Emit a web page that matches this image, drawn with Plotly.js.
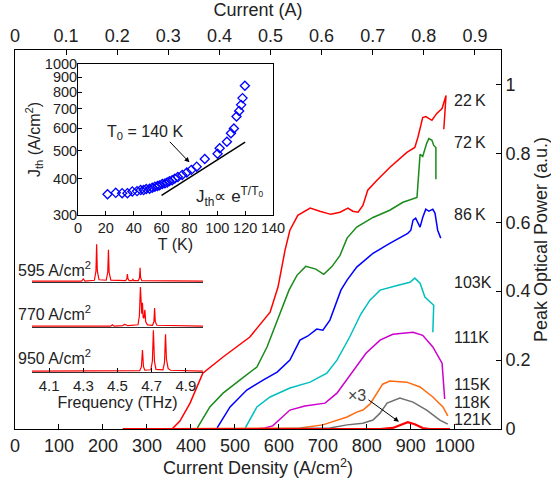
<!DOCTYPE html>
<html><head><meta charset="utf-8">
<script src="https://cdn.plot.ly/plotly-3.0.1.min.js"></script>
<style>html,body{margin:0;padding:0;background:#fff}#chart{width:551px;height:481px}</style>
</head><body><div id="chart"></div>
<script>
// ---- Main chart: peak optical power vs current density ----
const J22 = [357,375,398,427,473,534,580,598,614,625,643,671,693,718,739,757,768,780,791,802,823,852,891,909,916,927,934,948,959,971,980,975];
const P22 = [0,0.023,0.075,0.162,0.209,0.267,0.339,0.412,0.519,0.577,0.620,0.641,0.632,0.623,0.629,0.641,0.632,0.629,0.649,0.693,0.722,0.759,0.803,0.817,0.846,0.904,0.907,0.896,0.916,0.930,0.968,0.870];
const J72 = [414,416,443,473,511,550,573,596,623,641,661,684,702,721,739,755,777,814,852,882,914,921,927,936,941,948,952,957,957];
const P72 = [0,0.006,0.064,0.104,0.142,0.180,0.238,0.316,0.403,0.446,0.472,0.464,0.449,0.472,0.504,0.554,0.586,0.614,0.635,0.658,0.672,0.797,0.791,0.829,0.843,0.838,0.823,0.817,0.725];
const J86 = [459,461,489,527,564,596,625,648,666,686,700,716,741,755,777,814,852,893,900,905,911,921,927,934,941,950,955,961,968];
const P86 = [0,0.006,0.064,0.113,0.142,0.165,0.2,0.258,0.270,0.290,0.287,0.316,0.403,0.432,0.470,0.510,0.539,0.568,0.577,0.606,0.612,0.586,0.614,0.638,0.632,0.638,0.626,0.577,0.554];
const J103 = [523,525,550,580,625,671,709,732,761,786,807,830,871,898,909,921,932,952,950];
const P103 = [0,0.006,0.064,0.093,0.119,0.136,0.162,0.2,0.267,0.333,0.374,0.403,0.417,0.426,0.438,0.423,0.383,0.359,0.281];
const J111 = [545,568,586,607,625,659,705,732,766,798,830,859,905,927,950,971,977];
const P111 = [0,0.003,0.009,0.035,0.055,0.067,0.075,0.104,0.165,0.220,0.258,0.275,0.281,0.272,0.238,0.191,0.087];
const J115 = [245,648,700,732,755,777,791,807,821,836,852,891,921,950,973,984];
const P115 = [0,0.003,0.012,0.026,0.035,0.049,0.055,0.072,0.101,0.130,0.139,0.136,0.122,0.093,0.064,0.038];
const J118 = [534,716,755,791,814,830,846,875,905,936,966,984];
const P118 = [0,0.003,0.012,0.017,0.026,0.046,0.075,0.090,0.078,0.055,0.026,0.014];
const J121 = [245,830,859,875,893,909,927,943,989];
const P121 = [0,0,0.003,0.012,0.020,0.014,0.003,0,0];
const curveLabels = ['22\u2009K','72\u2009K','86\u2009K','103K','111K','115K','118K','121K'];
const labelP = [0.954,0.832,0.623,0.426,0.267,0.128,0.078,0.029];
const densityTicks = [0,100,200,300,400,500,600,700,800,900,1000];
const currentTicks = [0,0.1,0.2,0.3,0.4,0.5,0.6,0.7,0.8,0.9];
const powerTicks = [0,0.2,0.4,0.6,0.8,1];

// ---- Inset: threshold current density vs temperature ----
const T = [21.2,27.1,31.7,35.5,39,42.4,45,47.1,49,51.4,53.3,55.2,57.1,58.6,60.5,62.4,64,65.7,67.6,69.5,71.7,74.8,78.1,81.4,85.2,91,100.2,101.7,106.9,109.8,111.9,113.8,115.7,117.1,118.1,119.8];
const Jth = [354,358,357,357,362,363,366,366,369,370,373,376,378,380,384,386,389,393,396,401,406,413,421,430,441,469,489,511,538,576,598,658,688,722,762,841];
const fitT = [60,120];
const fitJ = [351,536];
const insetTTicks = [0,20,40,60,80,100,120,140];
const insetJTicks = [300,400,500,600,700,800,900,1000];

// ---- Inset: emission spectra ----
const f595 = [4.00,4.29,4.30,4.31,4.365,4.374,4.378,4.382,4.392,4.434,4.443,4.447,4.451,4.461,4.548,4.555,4.558,4.561,4.568,4.585,4.590,4.595,4.622,4.629,4.632,4.635,4.642,5.00];
const a595 = [0.02,0.02,0.07,0.02,0.04,0.25,0.86,0.25,0.05,0.04,0.22,0.73,0.22,0.04,0.03,0.08,0.18,0.08,0.03,0.03,0.06,0.03,0.03,0.10,0.32,0.10,0.03,0.02];
const f770 = [4.00,4.46,4.47,4.48,4.53,4.54,4.55,4.56,4.62,4.628,4.634,4.638,4.642,4.646,4.650,4.655,4.660,4.665,4.675,4.705,4.713,4.717,4.721,4.730,5.00];
const a770 = [0.02,0.02,0.05,0.02,0.03,0.06,0.05,0.03,0.05,0.25,0.91,0.35,0.30,0.55,0.22,0.20,0.39,0.12,0.05,0.04,0.12,0.43,0.12,0.04,0.02];
const f950 = [4.00,4.63,4.640,4.646,4.652,4.66,4.695,4.704,4.710,4.716,4.725,4.766,4.775,4.781,4.786,4.790,4.796,4.81,5.00];
const a950 = [0.02,0.03,0.12,0.50,0.12,0.04,0.05,0.25,0.95,0.25,0.06,0.05,0.22,0.86,0.30,0.23,0.08,0.04,0.02];
const specLabels = ['595 A/cm<sup>2</sup>','770 A/cm<sup>2</sup>','950 A/cm<sup>2</sup>'];
const freqTicks = [4.1,4.3,4.5,4.7,4.9];

const FONT = 'Liberation Sans, Arial, Helvetica, sans-serif';
const TXT = '#222';
const colors = ['#ff0000','#1a8a1a','#0000ff','#00bfbf','#cc00cc','#ff6a10','#6e6e6e','#ff0000'];
const Js = [J22,J72,J86,J103,J111,J115,J118,J121];
const Ps = [P22,P72,P86,P103,P111,P115,P118,P121];

const traces = [];
for (let i = 0; i < Js.length; i++) {
  traces.push({x: Js[i], y: Ps[i], xaxis:'x', yaxis:'y', mode:'lines', line:{color:colors[i], width: i===7?2.2:1.5}, hoverinfo:'skip'});
}
// helper trace (no visible marks) so the top "Current (A)" axis is drawn
traces.push({x: currentTicks, y: currentTicks.map(() => null), xaxis:'x2', yaxis:'y', mode:'lines', line:{width:0}, hoverinfo:'skip'});
traces.push({x: fitT, y: fitJ, xaxis:'x3', yaxis:'y3', mode:'lines', line:{color:'#000', width:1.5}});
traces.push({x: T, y: Jth, xaxis:'x3', yaxis:'y3', mode:'markers', marker:{symbol:'diamond-open', size:7, color:'#0000ff', line:{width:1.3, color:'#0000ff'}}});
const specF = [f595, f770, f950];
const specA = [a595, a770, a950];
const specAx = [['x6','y6'],['x5','y5'],['x4','y4']];
for (let i = 0; i < 3; i++) {
  traces.push({x: specF[i], y: specA[i], xaxis: specAx[i][0], yaxis: specAx[i][1], mode:'lines', line:{color:'#ff0000', width:1.2}});
}

const baseAx = {showgrid:false, zeroline:false, showline:true, linecolor:'#000', linewidth:1, ticks:'inside', tickcolor:'#000', tickangle:0, tickfont:{family:FONT, size:18, color:TXT}};
const specDomX = [0.035, 0.3868];
const hiddenY = {showgrid:false, zeroline:false, showline:false, showticklabels:false, ticks:'', range:[0,1], fixedrange:true};

const annotations = [];
for (let i = 0; i < curveLabels.length; i++) {
  annotations.push({x: 993, y: labelP[i], xref:'x', yref:'y', text: curveLabels[i], showarrow:false, xanchor:'left', yanchor:'middle', font:{family:FONT, size:16, color:TXT}});
}
annotations.push({x: 778, y: 0.096, xref:'x', yref:'y', text:'\u00d73', showarrow:false, font:{family:FONT, size:16, color:'#444'}});
annotations.push({x: 873, y: 0.021, xref:'x', yref:'y', text:'', showarrow:true, ax:-32, ay:-23, arrowhead:2, arrowsize:1, arrowwidth:1, arrowcolor:'#000'});
annotations.push({x: 47.9, y: 2.762, xref:'x3', yref:'y3', text:'T<sub>0</sub> = 140 K', showarrow:false, font:{family:FONT, size:16, color:TXT}});
annotations.push({x: 80, y: 2.6595, xref:'x3', yref:'y3', text:'', showarrow:true, ax:-21, ay:-22, arrowhead:2, arrowsize:1, arrowwidth:1, arrowcolor:'#000'});
annotations.push({x: 109, y: 2.54, xref:'x3', yref:'y3', text:'J<sub>th</sub>\u221d e<sup>T/T<sub>0</sub></sup>', showarrow:false, font:{family:FONT, size:17, color:TXT}});
const specLabelY = [0.422, 0.306, 0.190];
for (let i = 0; i < 3; i++) {
  annotations.push({x: 0.002, y: specLabelY[i], xref:'paper', yref:'paper', text: specLabels[i], showarrow:false, xanchor:'left', yanchor:'middle', font:{family:FONT, size:16, color:TXT}});
}

const layout = {
  width: 551, height: 481,
  margin: {l:15, r:50, t:50, b:52},
  paper_bgcolor:'#fff', plot_bgcolor:'rgba(0,0,0,0)',
  showlegend:false,
  font:{family:FONT, color:TXT},
  xaxis: Object.assign({}, baseAx, {domain:[0,1], anchor:'y', range:[0,1105], tickvals:densityTicks, ticklen:5,
    title:{text:'Current Density (A/cm<sup>2</sup>)', font:{family:FONT, size:18, color:TXT}, standoff:4}}),
  xaxis2: Object.assign({}, baseAx, {overlaying:'x', anchor:'y', side:'top', range:[0,0.951], tickvals:currentTicks, ticklen:5,
    title:{text:'Current (A)', font:{family:FONT, size:18, color:TXT}, standoff:4}}),
  yaxis: Object.assign({}, baseAx, {domain:[0,1], anchor:'x', side:'right', mirror:true, range:[0,1.1], tickvals:powerTicks, ticklen:5,
    title:{text:'Peak Optical Power (a.u.)', font:{family:FONT, size:18, color:TXT}, standoff:6}}),
  xaxis3: Object.assign({}, baseAx, {domain:[0.1296,0.5309], anchor:'y3', range:[0,140], tickvals:insetTTicks, ticklen:4, mirror:true,
    tickfont:{family:FONT, size:14.5, color:TXT}, ticklabelstandoff:0, title:{text:'T (K)', font:{family:FONT, size:16, color:TXT}, standoff:0}}),
  yaxis3: Object.assign({}, baseAx, {domain:[0.5646,0.963], anchor:'x3', type:'log', range:[2.4771,3], tickvals:insetJTicks, ticktext:insetJTicks.map(String), ticklen:4, mirror:true,
    tickfont:{family:FONT, size:14.5, color:TXT}, ticklabelstandoff:-3, title:{text:'J<sub>th</sub> (A/cm<sup>2</sup>)', font:{family:FONT, size:16, color:TXT}, standoff:0}}),
  xaxis4: Object.assign({}, baseAx, {domain:specDomX, anchor:'y4', range:[4.0,5.0], tickvals:freqTicks, ticklen:4, linecolor:'#333',
    tickfont:{family:FONT, size:15, color:TXT}, title:{text:'Frequency (THz)', font:{family:FONT, size:16, color:TXT}, standoff:2}}),
  xaxis5: Object.assign({}, baseAx, {domain:specDomX, anchor:'y5', range:[4.0,5.0], ticks:'', showticklabels:false, linecolor:'#333'}),
  xaxis6: Object.assign({}, baseAx, {domain:specDomX, anchor:'y6', range:[4.0,5.0], ticks:'', showticklabels:false, linecolor:'#333'}),
  yaxis4: Object.assign({}, hiddenY, {domain:[0.1504,0.2665], anchor:'x4'}),
  yaxis5: Object.assign({}, hiddenY, {domain:[0.2691,0.3852], anchor:'x5'}),
  yaxis6: Object.assign({}, hiddenY, {domain:[0.3879,0.5040], anchor:'x6'}),
  annotations: annotations
};

Plotly.newPlot('chart', traces, layout, {staticPlot:true, displayModeBar:false});
</script></body></html>
